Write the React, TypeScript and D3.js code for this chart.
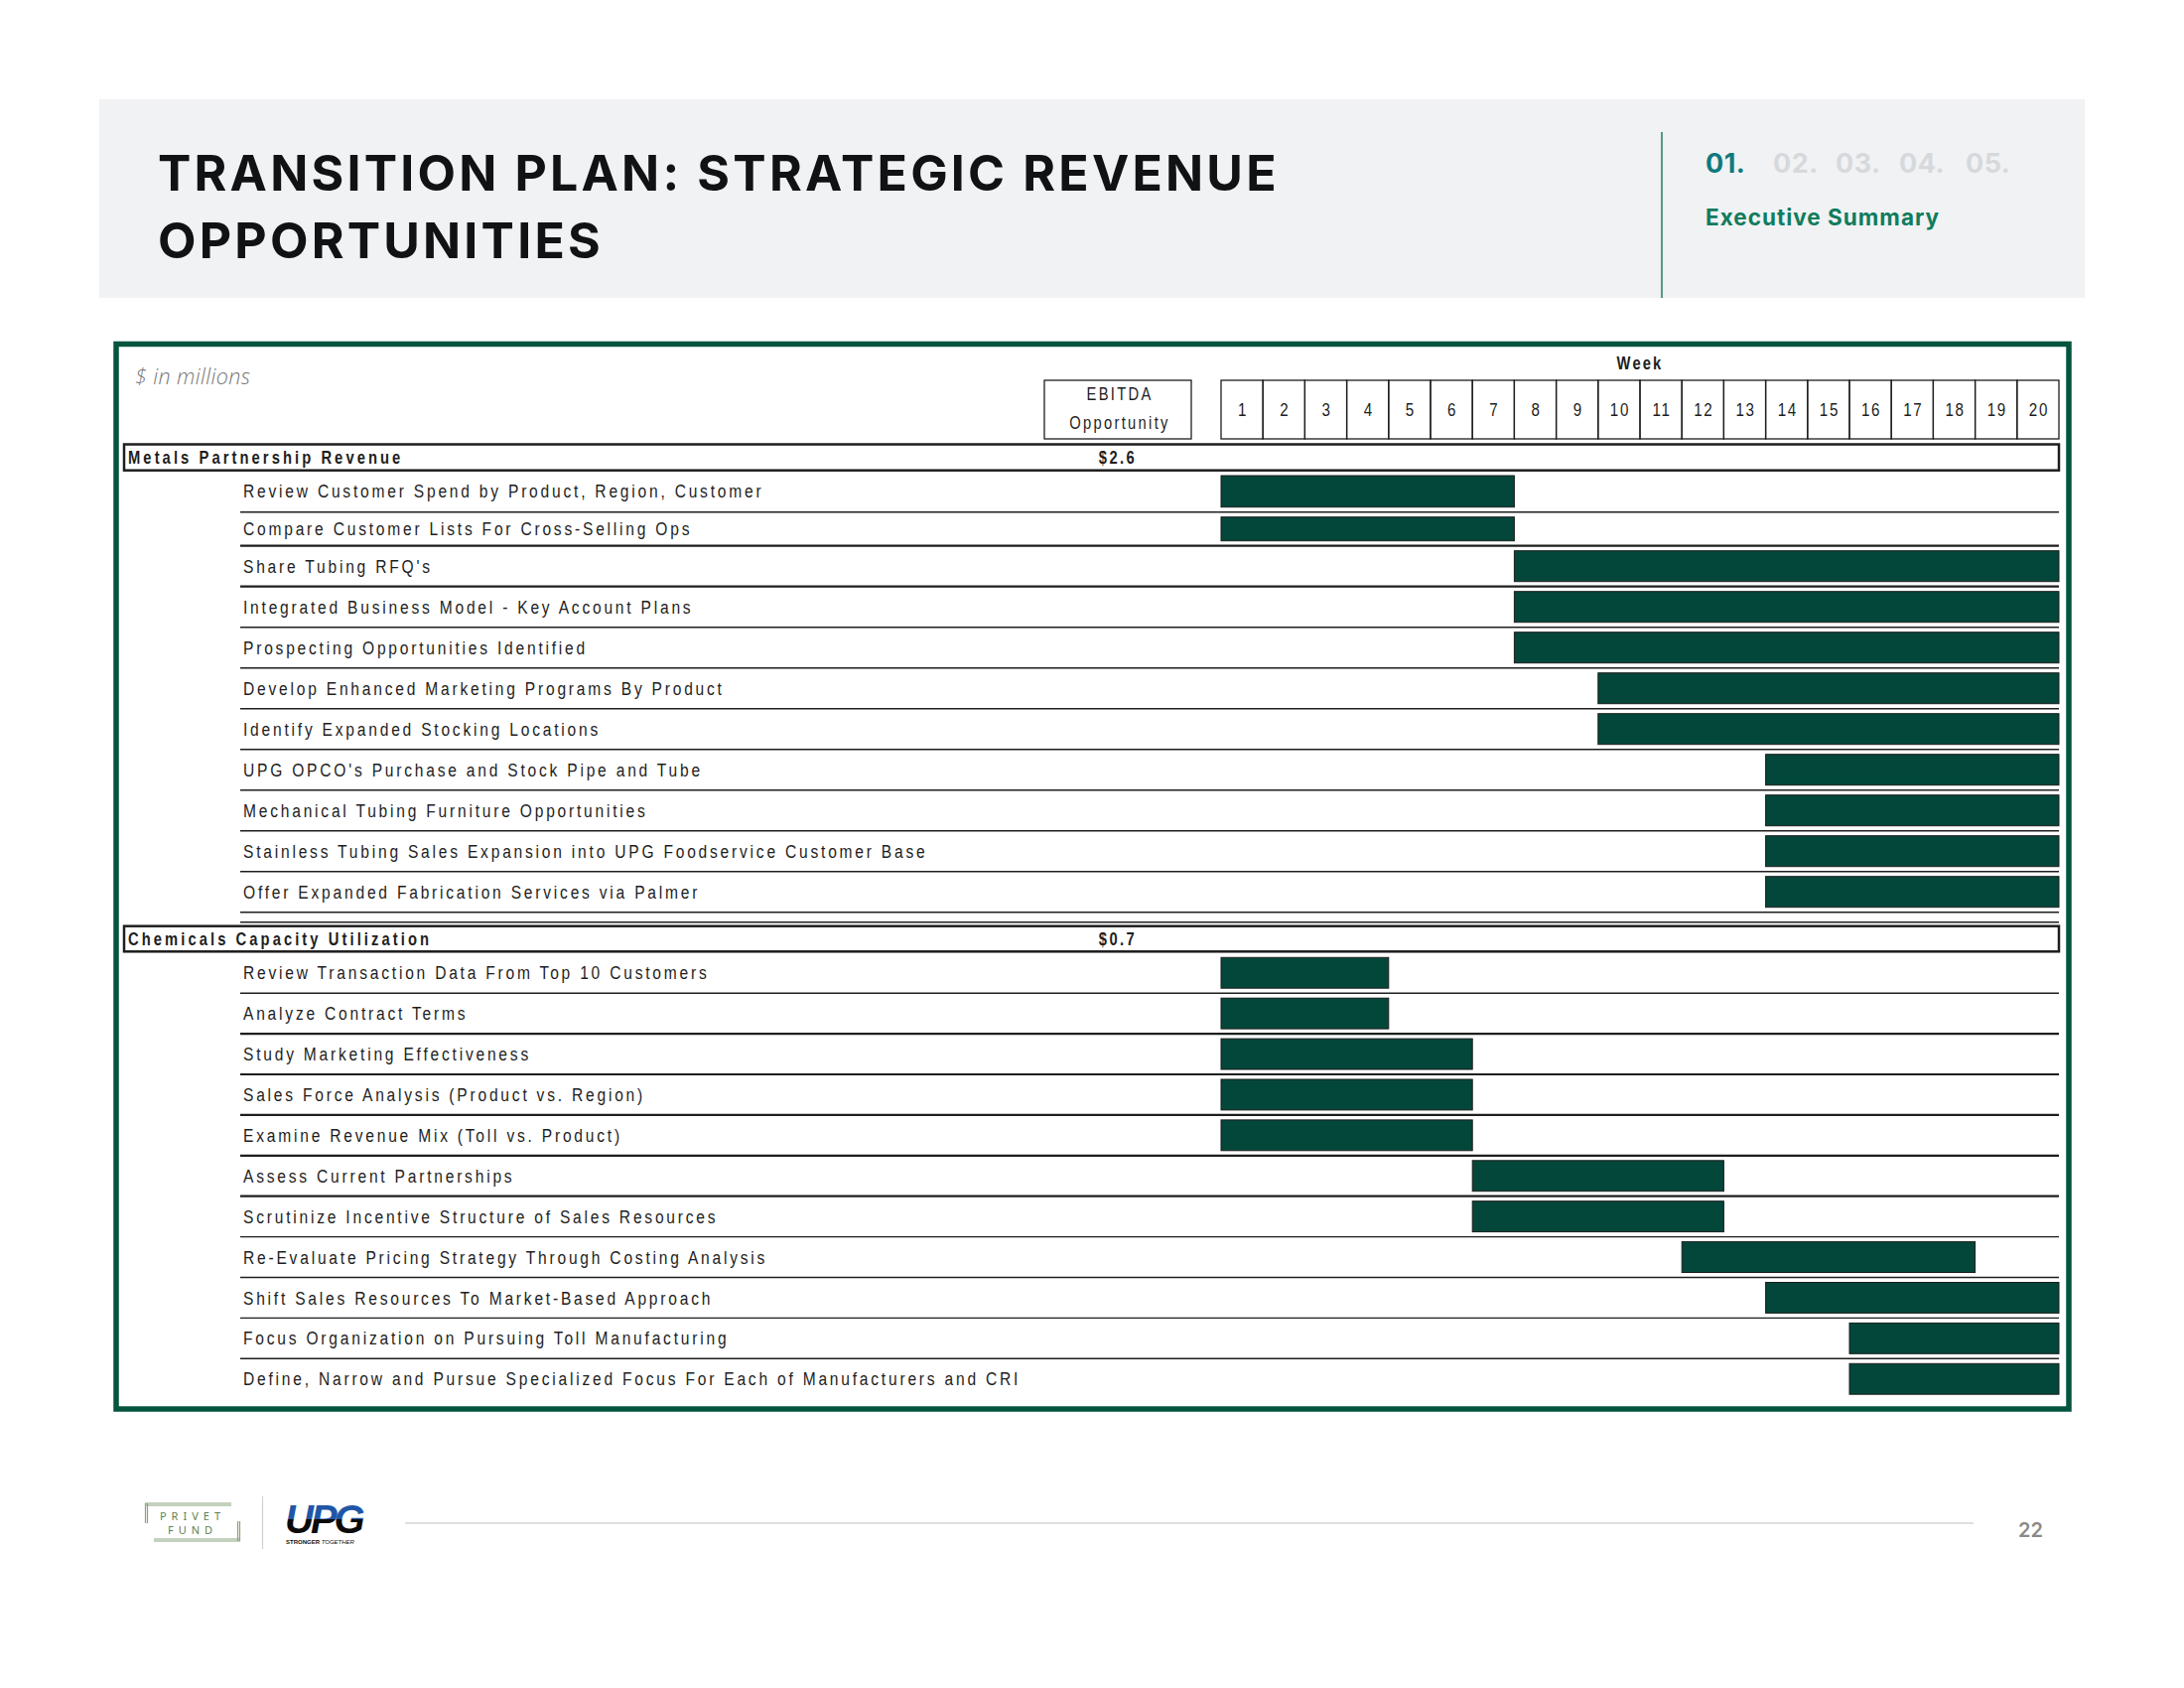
import React from 'react';
import * as d3 from 'd3';

// ---------- data ----------
const weeks = [1, 2, 3, 4, 5, 6, 7, 8, 9, 10, 11, 12, 13, 14, 15, 16, 17, 18, 19, 20];
const ebitdaHeader = ['EBITDA', 'Opportunity'];

const metalsTitle = 'Metals Partnership Revenue';
const metalsEbitda = '$2.6';
const metalsTasks = [
  'Review Customer Spend by Product, Region, Customer',
  'Compare Customer Lists For Cross-Selling Ops',
  "Share Tubing RFQ's",
  'Integrated Business Model - Key Account Plans',
  'Prospecting Opportunities Identified',
  'Develop Enhanced Marketing Programs By Product',
  'Identify Expanded Stocking Locations',
  "UPG OPCO's Purchase and Stock Pipe and Tube",
  'Mechanical Tubing Furniture Opportunities',
  'Stainless Tubing Sales Expansion into UPG Foodservice Customer Base',
  'Offer Expanded Fabrication Services via Palmer',
];
const metalsStartWeek = [1, 1, 8, 8, 8, 10, 10, 14, 14, 14, 14];
const metalsEndWeek = [7, 7, 20, 20, 20, 20, 20, 20, 20, 20, 20];

const chemTitle = 'Chemicals Capacity Utilization';
const chemEbitda = '$0.7';
const chemTasks = [
  'Review Transaction Data From Top 10 Customers',
  'Analyze Contract Terms',
  'Study Marketing Effectiveness',
  'Sales Force Analysis (Product vs. Region)',
  'Examine Revenue Mix (Toll vs. Product)',
  'Assess Current Partnerships',
  'Scrutinize Incentive Structure of Sales Resources',
  'Re-Evaluate Pricing Strategy Through Costing Analysis',
  'Shift Sales Resources To Market-Based Approach',
  'Focus Organization on Pursuing Toll Manufacturing',
  'Define, Narrow and Pursue Specialized Focus For Each of Manufacturers and CRI',
];
const chemStartWeek = [1, 1, 1, 1, 1, 7, 7, 12, 14, 16, 16];
const chemEndWeek = [4, 4, 6, 6, 6, 12, 12, 18, 20, 20, 20];

const titleLines = ['TRANSITION PLAN: STRATEGIC REVENUE', 'OPPORTUNITIES'];
const navItems = ['01.', '02.', '03.', '04.', '05.'];
const navLabel = 'Executive Summary';
const unitsLabel = '$ in millions';
const weekLabel = 'Week';
const pageNumber = '22';

// ---------- styles ----------
const GREEN = '#05543f';
const BAR = '#03473a';
const INK = '#1e1e1e';
const SANS = "'Liberation Sans',Arial,sans-serif";
const HEAD = "'Inter','Noto Sans',sans-serif";
const NARROW_SCALE = 0.82;

type NTProps = {
  x: number;
  y: number;
  size?: number;
  spacing?: number;
  bold?: boolean;
  anchor?: 'start' | 'middle' | 'end';
  children: React.ReactNode;
};

// Arial-Narrow look: Liberation Sans compressed horizontally
function NText({ x, y, size = 19, spacing = 3.4, bold = false, anchor = 'start', children }: NTProps) {
  return (
    <text
      transform={`translate(${x},${y}) scale(${NARROW_SCALE},1)`}
      textAnchor={anchor}
      dominantBaseline="central"
      style={{
        fontFamily: SANS,
        fontSize: size,
        letterSpacing: spacing,
        fontWeight: bold ? 700 : 400,
        fill: INK,
      }}
    >
      {children}
    </text>
  );
}

export default function App() {
  const W = 2200;
  const H = 1700;

  const x = d3.scaleBand<number>().domain(weeks).range([1230, 2074]).paddingInner(0).paddingOuter(0);
  const barX = (s: number) => x(s) as number;
  const barW = (s: number, e: number) => (x(e) as number) + x.bandwidth() - (x(s) as number);

  const tableRight = 2074;
  const textX = 245;
  const lineX0 = 242;
  const ebitdaX0 = 1052;
  const ebitdaX1 = 1200;
  const ebitdaCx = (ebitdaX0 + ebitdaX1) / 2;
  const headTop = 383;
  const headBottom = 442;

  const metalsHeader = { y0: 447.5, y1: 473.7 };
  const metalsRows = metalsTasks.map((_, i) => {
    if (i === 0) return { top: 474, h: 41.7 };
    if (i === 1) return { top: 515.7, h: 34 };
    return { top: 549.7 + 41 * (i - 2), h: 41 };
  });
  const chemHeader = { y0: 932.7, y1: 958.3 };
  const chemRows = chemTasks.map((_, i) => ({ top: 959.3 + 40.9 * i, h: 40.9 }));

  const thickMetals = new Set([1, 2]);
  const thickChem = new Set([1, 2, 3, 4, 5]);

  const renderRows = (
    tasks: string[],
    rows: { top: number; h: number }[],
    starts: number[],
    ends: number[],
    thick: Set<number>,
    key: string,
    lastLine: boolean
  ) =>
    tasks.map((t, i) => {
      const r = rows[i];
      const barTop = r.top + 5;
      const barH = r.h - 10;
      const cy = barTop + barH / 2;
      const showLine = i < tasks.length - 1 || lastLine;
      return (
        <g key={key + i}>
          <rect
            x={barX(starts[i])}
            y={barTop}
            width={barW(starts[i], ends[i])}
            height={barH}
            fill={BAR}
            stroke="#1c1c1c"
            strokeWidth={1}
          />
          <NText x={textX} y={cy}>
            {t}
          </NText>
          {showLine && (
            <line
              x1={lineX0}
              x2={tableRight}
              y1={r.top + r.h}
              y2={r.top + r.h}
              stroke={INK}
              strokeWidth={thick.has(i) ? 2.2 : 1.4}
            />
          )}
        </g>
      );
    });

  const sectionHeader = (title: string, val: string, y0: number, y1: number) => (
    <g>
      <rect x={125} y={y0} width={tableRight - 125} height={y1 - y0} fill="none" stroke={INK} strokeWidth={2.5} />
      <NText x={129} y={(y0 + y1) / 2} bold size={18} spacing={3.75}>
        {title}
      </NText>
      <NText x={ebitdaCx} y={(y0 + y1) / 2} bold size={18} anchor="middle" spacing={3}>
        {val}
      </NText>
    </g>
  );

  const navX = [1718, 1786, 1849, 1913, 1980];

  return (
    <svg
      width={W}
      height={H}
      viewBox={`0 0 ${W} ${H}`}
      style={{ position: 'absolute', left: 0, top: 0, background: '#fff' }}
    >
      <defs>
        <linearGradient id="upgGrad" x1="0" y1="0" x2="0" y2="1">
          <stop offset="0" stopColor="#1f57a8" />
          <stop offset="0.5" stopColor="#1f57a8" />
          <stop offset="0.5" stopColor="#0b0b0b" />
          <stop offset="1" stopColor="#0b0b0b" />
        </linearGradient>
      </defs>
      <rect x={0} y={0} width={W} height={H} fill="#fff" />

      {/* header band */}
      <rect x={100} y={100} width={2000} height={200} fill="#f1f2f4" />
      {titleLines.map((t, i) => (
        <text
          key={t}
          x={159}
          y={192 + i * 67.5}
          style={{ fontFamily: HEAD, fontWeight: 700, fontSize: 50, letterSpacing: 3.2, fill: '#111214' }}
        >
          {t}
        </text>
      ))}
      <line x1={1674} x2={1674} y1={133} y2={300} stroke="#2b8464" strokeWidth={1.6} />
      {navItems.map((n, i) => (
        <text
          key={n}
          x={navX[i]}
          y={173.5}
          style={{
            fontFamily: HEAD,
            fontWeight: 700,
            fontSize: 27,
            letterSpacing: 0.5,
            fill: i === 0 ? '#0f7a7e' : '#d6d9dc',
          }}
        >
          {n}
        </text>
      ))}
      <text
        x={1718}
        y={226.5}
        style={{ fontFamily: HEAD, fontWeight: 700, fontSize: 22.5, letterSpacing: 1, fill: '#107c5e' }}
      >
        {navLabel}
      </text>

      {/* green frame */}
      <rect x={117} y={346.5} width={1967} height={1072.5} fill="none" stroke={GREEN} strokeWidth={5.5} />

      <text
        x={136}
        y={387}
        style={{
          fontFamily: "'Open Sans',sans-serif",
          fontStyle: 'italic',
          fontWeight: 300,
          fontSize: 21.5,
          letterSpacing: 0.4,
          fill: '#777',
        }}
      >
        {unitsLabel}
      </text>

      {/* EBITDA header */}
      <rect
        x={ebitdaX0}
        y={headTop}
        width={ebitdaX1 - ebitdaX0}
        height={headBottom - headTop}
        fill="none"
        stroke={INK}
        strokeWidth={1.3}
      />
      {ebitdaHeader.map((t, i) => (
        <NText key={t} x={ebitdaCx + 2} y={396 + i * 29} anchor="middle" size={18} spacing={2.8}>
          {t}
        </NText>
      ))}

      {/* week header */}
      <NText x={(1230 + 2074) / 2} y={365} anchor="middle" bold size={18} spacing={2.6}>
        {weekLabel}
      </NText>
      {weeks.map((w) => (
        <g key={'w' + w}>
          <rect
            x={x(w) as number}
            y={headTop}
            width={x.bandwidth()}
            height={headBottom - headTop}
            fill="none"
            stroke={INK}
            strokeWidth={1.3}
          />
          <NText
            x={(x(w) as number) + x.bandwidth() / 2 + 1}
            y={(headTop + headBottom) / 2}
            anchor="middle"
            size={18.5}
            spacing={2}
          >
            {w}
          </NText>
        </g>
      ))}

      {/* metals section */}
      {sectionHeader(metalsTitle, metalsEbitda, metalsHeader.y0, metalsHeader.y1)}
      {renderRows(metalsTasks, metalsRows, metalsStartWeek, metalsEndWeek, thickMetals, 'm', true)}
      <line x1={lineX0} x2={tableRight} y1={928.7} y2={928.7} stroke={INK} strokeWidth={1.4} />

      {/* chemicals section */}
      {sectionHeader(chemTitle, chemEbitda, chemHeader.y0, chemHeader.y1)}
      {renderRows(chemTasks, chemRows, chemStartWeek, chemEndWeek, thickChem, 'c', false)}

      {/* footer */}
      <g>
        <g stroke="#8aa47c" strokeWidth={1.2} fill="none">
          <line x1={146} x2={233} y1={1514} y2={1514} />
          <line x1={146} x2={233} y1={1516} y2={1516} />
          <line x1={146.5} x2={146.5} y1={1514} y2={1534} />
          <line x1={148.5} x2={148.5} y1={1514} y2={1534} />
          <line x1={155} x2={242} y1={1552} y2={1552} />
          <line x1={155} x2={242} y1={1550} y2={1550} />
          <line x1={241.5} x2={241.5} y1={1532} y2={1552} />
          <line x1={239.5} x2={239.5} y1={1532} y2={1552} />
        </g>
        <text
          x={194}
          y={1531}
          textAnchor="middle"
          style={{ fontFamily: "'Noto Sans',sans-serif", fontSize: 11, letterSpacing: 5, fill: '#5f7f55' }}
        >
          PRIVET
        </text>
        <text
          x={194}
          y={1545}
          textAnchor="middle"
          style={{ fontFamily: "'Noto Sans',sans-serif", fontSize: 11, letterSpacing: 5, fill: '#5f7f55' }}
        >
          FUND
        </text>
        <line x1={264.5} x2={264.5} y1={1507} y2={1560} stroke="#d0d0d0" strokeWidth={1.2} />
        <text
          x={287}
          y={1544}
          style={{
            fontFamily: SANS,
            fontWeight: 700,
            fontStyle: 'italic',
            fontSize: 40,
            letterSpacing: -3,
            fill: 'url(#upgGrad)',
          }}
        >
          UPG
        </text>
        <text x={288} y={1555} style={{ fontFamily: SANS, fontWeight: 700, fontSize: 6, fill: '#111' }}>
          STRONGER <tspan fontStyle="italic" fontWeight={400}>TOGETHER</tspan>
        </text>
        <line x1={408} x2={1988} y1={1534} y2={1534} stroke="#d4d4d4" strokeWidth={1.5} />
        <text x={2033} y={1548} style={{ fontFamily: HEAD, fontWeight: 600, fontSize: 20, fill: '#8a8a8a' }}>
          {pageNumber}
        </text>
      </g>
    </svg>
  );
}
